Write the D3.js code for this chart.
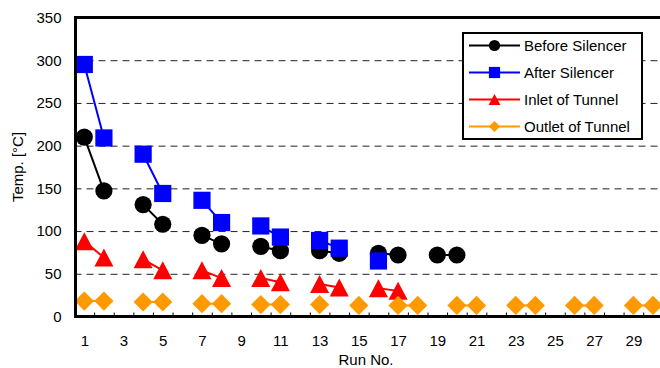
<!DOCTYPE html>
<html>
<head>
<meta charset="utf-8">
<script src="https://cdn.jsdelivr.net/npm/d3@7/dist/d3.min.js"></script>
<style>
  html, body { margin: 0; padding: 0; background: #fff; }
  svg { display: block; font-family: "Liberation Sans", Arial, sans-serif; }
</style>
</head>
<body>
<svg id="chart" width="660" height="368"></svg>
<script>
// Run numbers on the category axis
const runs = d3.range(1, 31);
const xTickLabels = d3.range(1, 31, 2);
const yTickValues = [0, 50, 100, 150, 200, 250, 300, 350];

// Temperatures in °C per run (missing run = not measured)
const beforeSilencer = {1: 210, 2: 147, 4: 131, 5: 108, 7: 95, 8: 85, 10: 82, 11: 77, 13: 77, 14: 74, 16: 74, 17: 72, 19: 72, 20: 72};
const afterSilencer  = {1: 295, 2: 209, 4: 190, 5: 144, 7: 136, 8: 110, 10: 106, 11: 93, 13: 89, 14: 80, 16: 65};
const inletTunnel    = {1: 88, 2: 69, 4: 67, 5: 54, 7: 54, 8: 45, 10: 45, 11: 40, 13: 38, 14: 34, 16: 33, 17: 30};
const outletTunnel   = {1: 18, 2: 18, 4: 17, 5: 17, 7: 15, 8: 15, 10: 14, 11: 14, 13: 14, 15: 13, 17: 13, 18: 13,
                        20: 13, 21: 13, 23: 13, 24: 13, 26: 13, 27: 13, 29: 13, 30: 13};

const seriesNames = ["Before Silencer", "After Silencer", "Inlet of Tunnel", "Outlet of Tunnel"];
const seriesColors = ["#000000", "#0000ff", "#ff0000", "#ff9900"];
const seriesValues = [beforeSilencer, afterSilencer, inletTunnel, outletTunnel];
const seriesMarkers = ["circle", "square", "triangle", "diamond"];
const markerHalf = {circle: 8.6, square: 8.6, triangle: 9, diamond: 9.6};

const svg = d3.select("#chart");
const plotLeft = 74.5, plotRight = 662.8, plotTop = 17.5, plotBottom = 316.5;

const x = d3.scaleLinear().domain([0.5, 30.5]).range([plotLeft, plotRight]);
const y = d3.scaleLinear().domain([0, 350]).range([plotBottom, plotTop]);

// Marker outline paths, centred on the bounding box
function markerPath(kind, s) {
  if (kind === "circle") { const p = d3.path(); p.arc(0, 0, s, 0, 2 * Math.PI); p.closePath(); return p.toString(); }
  if (kind === "square") return `M${-s},${-s}H${s}V${s}H${-s}Z`;
  if (kind === "triangle") return `M0,${-s}L${s * 1.06},${s}L${-s * 1.06},${s}Z`;
  return `M0,${-s}L${s},0L0,${s}L${-s},0Z`;
}

// Dashed horizontal gridlines
const grid = svg.append("g")
  .attr("transform", `translate(${plotLeft},0)`)
  .call(d3.axisLeft(y).tickValues([50, 100, 150, 200, 250, 300]).tickSize(-(plotRight - plotLeft)).tickFormat(""));
grid.select(".domain").remove();
grid.selectAll("line").attr("stroke", "#222").attr("stroke-width", 1).attr("stroke-dasharray", "7,5");

// Y axis labels
const yAxis = svg.append("g")
  .attr("transform", `translate(${plotLeft},0)`)
  .call(d3.axisLeft(y).tickValues(yTickValues).tickSize(0).tickPadding(13));
yAxis.select(".domain").remove();
yAxis.selectAll("text").attr("font-size", 15).attr("fill", "#000").attr("font-family", "Liberation Sans, Arial, sans-serif");

// X axis category boundary ticks (pointing inward)
const xTicks = svg.append("g")
  .attr("transform", `translate(0,${plotBottom})`)
  .call(d3.axisBottom(x).tickValues(d3.range(1.5, 30.5, 1)).tickSize(-4).tickFormat(""));
xTicks.select(".domain").remove();
xTicks.selectAll("line").attr("stroke", "#000").attr("stroke-width", 1);

// X axis labels
const xAxis = svg.append("g")
  .attr("transform", `translate(0,${plotBottom})`)
  .call(d3.axisBottom(x).tickValues(xTickLabels).tickSize(0).tickPadding(19).tickFormat(d3.format("d")));
xAxis.select(".domain").remove();
xAxis.selectAll("text").attr("font-size", 15).attr("fill", "#000").attr("font-family", "Liberation Sans, Arial, sans-serif");

// Series: line then markers, drawn series by series
seriesValues.forEach((vals, i) => {
  const data = runs.map(r => ({run: r, v: vals[r] === undefined ? null : vals[r]}));
  const line = d3.line().defined(d => d.v !== null).x(d => x(d.run)).y(d => y(d.v));
  const g = svg.append("g");
  g.append("path").datum(data)
    .attr("d", line)
    .attr("fill", "none")
    .attr("stroke", seriesColors[i])
    .attr("stroke-width", 2);
  g.selectAll("path.m").data(data.filter(d => d.v !== null)).enter()
    .append("path").attr("class", "m")
    .attr("d", markerPath(seriesMarkers[i], markerHalf[seriesMarkers[i]]))
    .attr("transform", d => `translate(${x(d.run)},${y(d.v)})`)
    .attr("fill", seriesColors[i]);
});

// Plot frame
svg.append("rect")
  .attr("x", plotLeft + 1).attr("y", plotTop)
  .attr("width", plotRight - plotLeft).attr("height", plotBottom - plotTop)
  .attr("fill", "none").attr("stroke", "#000").attr("stroke-width", 3);

// Axis titles
svg.append("text")
  .attr("x", 366).attr("y", 364.5)
  .attr("text-anchor", "middle").attr("font-size", 15)
  .text("Run No.");
svg.append("text")
  .attr("transform", `translate(22.5,${(plotTop + plotBottom) / 2}) rotate(-90)`)
  .attr("text-anchor", "middle").attr("font-size", 15)
  .text("Temp. [°C]");

// Legend
const lg = svg.append("g");
lg.append("rect").attr("x", 463).attr("y", 33).attr("width", 179).attr("height", 106)
  .attr("fill", "#fff").attr("stroke", "#000").attr("stroke-width", 2);
seriesNames.forEach((name, i) => {
  const cy = 45.5 + i * 27;
  lg.append("line").attr("x1", 469).attr("x2", 520).attr("y1", cy).attr("y2", cy)
    .attr("stroke", seriesColors[i]).attr("stroke-width", 2);
  lg.append("path").attr("d", markerPath(seriesMarkers[i], 5.6))
    .attr("transform", `translate(494.5,${cy})`).attr("fill", seriesColors[i]);
  lg.append("text").attr("x", 524).attr("y", cy).attr("dy", "0.36em")
    .attr("font-size", 15).text(name);
});
</script>
</body>
</html>
